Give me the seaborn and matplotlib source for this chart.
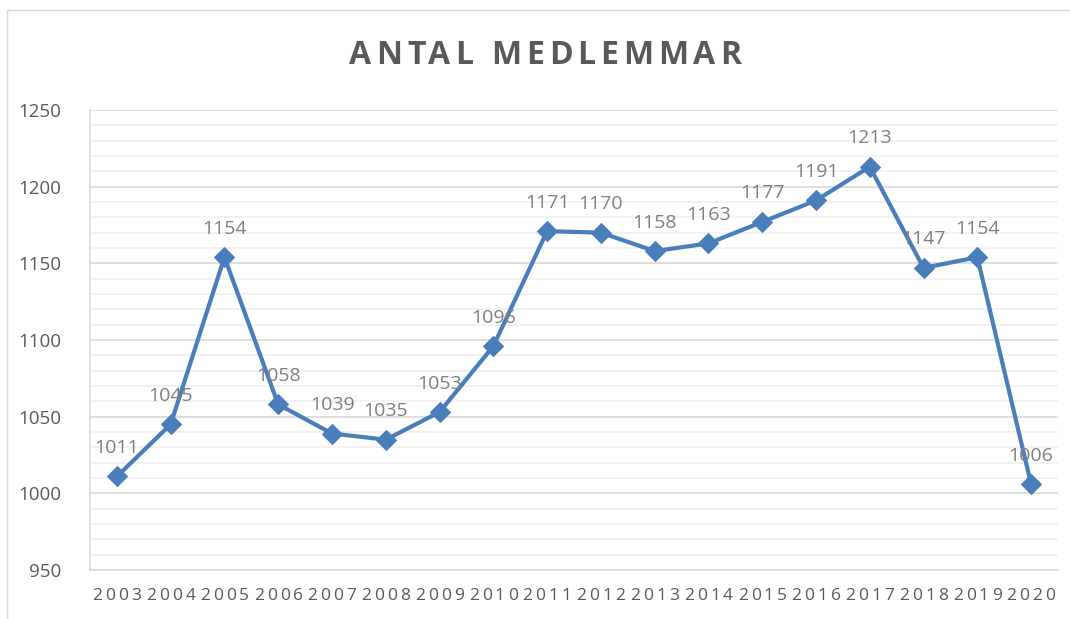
import matplotlib
matplotlib.use("Agg")
import seaborn as sns
import matplotlib.pyplot as plt
from matplotlib.patches import Rectangle
from matplotlib.ticker import MultipleLocator
from matplotlib.transforms import IdentityTransform

years = ['2003', '2004', '2005', '2006', '2007', '2008', '2009', '2010', '2011',
         '2012', '2013', '2014', '2015', '2016', '2017', '2018', '2019', '2020']
members = [1011, 1045, 1154, 1058, 1039, 1035, 1053, 1096, 1171,
           1170, 1158, 1163, 1177, 1191, 1213, 1147, 1154, 1006]
title = 'ANTAL MEDLEMMAR'

sns.set_style('white')
plt.rcParams['font.family'] = ['Open Sans', 'DejaVu Sans']

fig = plt.figure(figsize=(10.7, 6.19), dpi=100)
ax = fig.add_axes([90 / 1070, 1 - 570 / 619, 968 / 1070, 460 / 619])
renderer = fig.canvas.get_renderer()


def tracked_text(cx, cy, s, gap, **kw):
    # letter-spaced text centred at pixel (cx, cy); uses prefix widths so
    # that kerning and spaces come out right
    tmp = fig.text(0, 0, '', transform=IdentityTransform(), **kw)
    ends = []
    for i in range(len(s)):
        tmp.set_text(s[:i + 1])
        ends.append(tmp.get_window_extent(renderer).width)
    tmp.remove()
    total = ends[-1] + gap * (len(s) - 1)
    x0 = cx - total / 2
    for i, ch in enumerate(s):
        if ch == ' ':
            continue
        fig.text(x0 + ends[i] + gap * i, cy, ch, transform=IdentityTransform(),
                 ha='right', va='center', **kw)


idx = list(range(len(years)))
sns.lineplot(x=idx, y=members, ax=ax, color='#4A7EBB', linewidth=3,
             marker='D', markersize=10, markeredgecolor='#4A7EBB')

# data labels
for i, v in zip(idx, members):
    ax.annotate(str(v), (i, v), xytext=(0, 14), textcoords='offset points',
                ha='center', va='bottom', fontsize=14, color='#7F7F7F')

ax.set_xlim(-0.5, len(years) - 0.5)
ax.set_ylim(950, 1250)
ax.yaxis.set_major_locator(MultipleLocator(50))
ax.yaxis.set_minor_locator(MultipleLocator(10))
ax.grid(which='major', axis='y', color='#D9D9D9', linewidth=1.2)
ax.grid(which='minor', axis='y', color='#F0F0F0', linewidth=1.2)
ax.set_axisbelow(True)
ax.set_xticks(idx)
ax.set_xticklabels([])
ax.tick_params(axis='y', labelsize=13.5, labelcolor='#595959', length=0, pad=21)
ax.tick_params(axis='x', length=0)
for s in ['top', 'right']:
    ax.spines[s].set_visible(False)
for s in ['left', 'bottom']:
    ax.spines[s].set_color('#D9D9D9')
    ax.spines[s].set_linewidth(1.2)

# x tick labels, digits on a fixed pitch (letter spaced like the original)
pitch = 13.0
for i, yr in zip(idx, years):
    px = ax.transData.transform((i, 950))[0]
    for k, ch in enumerate(yr):
        fig.text(px + (k - 1.5) * pitch, 619 - 596, ch, transform=IdentityTransform(),
                 ha='center', va='center', fontsize=12.5, color='#595959')

tracked_text(545, 619 - 55, title, 4.8, fontsize=23, fontweight='bold',
             color='#595959')

fig.patches.append(Rectangle((7 / 1070, -0.02), 1.0, 1 - 10 / 619 + 0.02,
                             transform=fig.transFigure, fill=False,
                             edgecolor='#D9D9D9', linewidth=1))

fig.savefig('out.png', dpi=100)
